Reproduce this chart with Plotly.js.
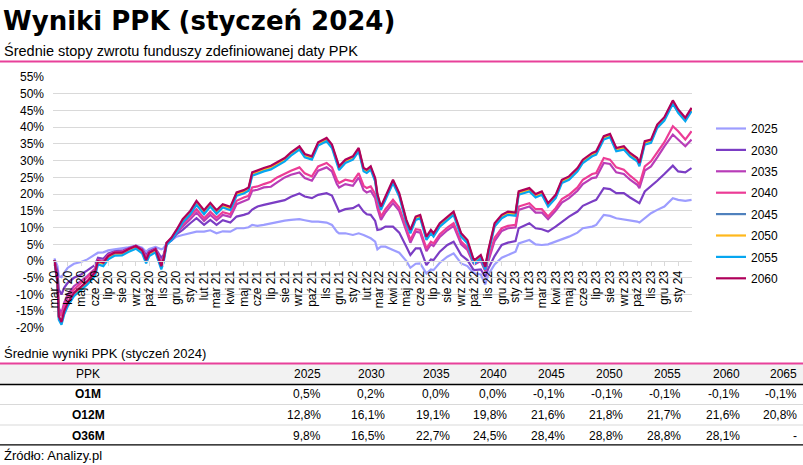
<!DOCTYPE html>
<html><head><meta charset="utf-8">
<script src="https://cdn.plot.ly/plotly-3.0.1.min.js"></script>
<style>html,body{margin:0;padding:0;background:#fff;}#chart{width:803px;height:465px;}</style>
</head><body><div id="chart"></div>
<script>
const dates = ['2020-03-02','2020-03-09','2020-03-12','2020-03-18','2020-03-24','2020-04-01','2020-04-15','2020-05-01','2020-05-15','2020-06-01',
'2020-06-08','2020-06-20','2020-07-01','2020-07-15','2020-08-01','2020-08-15','2020-09-01','2020-09-15','2020-09-24','2020-10-01',
'2020-10-15','2020-10-28','2020-11-02','2020-11-09','2020-11-20','2020-12-01','2020-12-15','2021-01-01','2021-01-15','2021-02-01',
'2021-02-15','2021-03-01','2021-03-15','2021-04-01','2021-04-15','2021-05-01','2021-05-12','2021-05-20','2021-06-01','2021-06-15',
'2021-07-01','2021-07-15','2021-08-01','2021-08-15','2021-09-03','2021-09-15','2021-10-01','2021-10-15','2021-11-03','2021-11-15',
'2021-11-26','2021-12-01','2021-12-15','2022-01-01','2022-01-14','2022-01-25','2022-02-01','2022-02-10','2022-02-20','2022-02-25',
'2022-03-05','2022-03-15','2022-04-01','2022-04-15','2022-05-01','2022-05-10','2022-05-22','2022-06-01','2022-06-15','2022-06-25',
'2022-07-01','2022-07-15','2022-08-01','2022-08-15','2022-09-01','2022-09-15','2022-09-28','2022-10-01','2022-10-15','2022-10-25',
'2022-11-01','2022-11-15','2022-12-01','2022-12-15','2023-01-01','2023-01-08','2023-02-01','2023-02-15','2023-03-01','2023-03-15',
'2023-04-01','2023-04-15','2023-05-01','2023-05-20','2023-06-01','2023-06-22','2023-07-01','2023-07-18','2023-08-01','2023-08-15',
'2023-09-01','2023-09-15','2023-10-01','2023-10-06','2023-10-18','2023-11-01','2023-11-15','2023-12-01','2023-12-20','2024-01-01',
'2024-01-17','2024-01-31'];

const s2025 = [0.8,-1.5,-4.5,-4.8,-3.5,-2,-0.8,-0.3,0.5,1.8,
2.5,2.6,3.2,3.5,3.8,4.1,4.6,4,2.8,3.6,
4.2,3.5,3.8,5.3,6.2,7.3,7.8,8.3,8.8,8.8,
9.2,8.3,8.9,8.8,9.8,9.8,10.1,10.8,10.5,10.8,
11.3,11.8,12.1,12.3,12.5,12.2,11.8,11.8,11.5,10.8,
8.8,8.3,8.3,7.8,8.3,7.8,7.3,6.8,5.8,3.5,
4.3,4.3,3.3,2.5,0,-2,-0.8,-0.7,-3.7,-2.5,
-2.7,-0.5,1.3,2.3,-0.7,-1.5,-3.5,-3.7,-4,-7,
-4,-1,1,1.8,2.8,5.3,6.3,5,4.8,5,
5.8,6.5,7.3,8.5,9.8,10.3,10.8,13.8,13.5,12.8,
12.5,12.2,11.8,11.5,12.8,14.3,15.3,16.3,18.8,18.3,18,18.3];

const s2030 = [0.3,-3,-8.5,-10,-8,-6.5,-5,-4,-2.8,-1.2,
1,0.7,2.3,2.9,3.1,3.8,4.6,3.6,1.8,3,
3.8,1,1.8,5.3,6.2,8,9.3,11.3,12.8,10.8,
12.3,10.8,12.2,11.5,13.3,13.8,14.3,15.4,16.3,16.8,
17.2,17.7,18.2,19.2,20.2,19.3,18.8,19.8,20.3,19.6,
16,14.8,15.5,15.8,16.8,14.8,14,13.8,12,9.3,
9.5,10.3,10.3,8.5,4.3,1.8,3.8,3.8,-1.2,0.5,
0.3,2.8,4.8,5.8,1.8,0.3,-2.5,-2.7,-2.5,-4.7,
-2.2,1.5,4.8,5.5,6,9.8,11.3,9.8,9.5,8.8,
10.3,11.8,13.3,14.8,16.5,17.8,18.3,21.8,21.5,20.3,
20.3,19,17.8,17.3,20.8,22.3,24,26,28.5,26.8,26.5,27.8];

const s2035 = [0.3,-5,-14,-15.5,-12.5,-10,-7.5,-6,-4.5,-2.3,
0.4,0,1.9,2.7,2.8,3.7,4.5,3.4,1.1,2.7,
3.6,-0.4,1,5.4,6.6,8.5,10.2,12.5,14.5,12,
13.8,12.2,13.8,13.2,17,18,18.5,21,21.3,22,
22.2,23.5,25,25.8,26.5,24.8,24,27,28,26.8,
23,22,23,22.5,25,21.2,20.5,21,18.8,15.8,
12.3,14.5,17.3,15,9,5.5,8.8,8.5,3,5,
4.5,7.2,9.2,10.5,5,3.3,-0.6,-1,0,-3,
0,6,9,9.8,10,15.3,16.3,14.5,14.5,12.5,
15,17.5,18.8,21,23,24.8,25,29.3,29,26.5,
26,24.3,22.8,21.8,27,28.3,31,34.3,37.8,36.3,34.3,36.3];

const s2040 = [0.3,-5.5,-15,-16.5,-13.5,-11,-8.5,-6.5,-5,-2.8,
0.2,-0.2,1.7,2.6,2.7,3.6,4.5,3.3,0.8,2.6,
3.5,-0.8,0.8,5.4,6.7,8.8,10.8,13.3,15.5,12.8,
14.7,13,14.6,14,18,19,19.5,22,22.3,23,
23.7,25,26.2,27,28,26.2,25.3,28.3,29.3,28,
24.3,23.3,24.3,23.8,26.3,22.5,21.8,22.3,20,17,
13.3,15.5,18.3,16,9.8,6.3,9.5,9.3,3.8,5.8,
5.3,8,10,11.3,5.8,4,-0.3,-0.7,0.5,-2.7,
0.8,7,9.8,10.5,10.8,16.3,17.3,15.5,15.5,13.3,
15.8,18.5,19.8,22,24.3,26,26.3,30.8,30.3,28,
27.3,25.5,23.8,22.8,28.3,29.8,32.5,35.5,40.3,38.8,36.3,38.8];

const s2045 = [0.3,-6.1,-16.7,-18.4,-15.2,-12.7,-9.7,-7.7,-6.2,-3.7,
-0.2,-0.7,1.3,2.3,2.3,3.3,4.3,3,0.1,2.3,
3.3,-1.7,0.3,5.3,6.8,9,12.1,14.6,17.6,14.8,
17,14.8,16.6,15.8,20.1,20.8,21.6,26.1,26.8,27.4,
28.1,29.1,30.4,32.1,33.9,31.6,30.9,35.1,36.4,34.4,
29.9,27.9,29.9,30.9,33.4,27.4,26.9,27.9,24.4,19.6,
15.9,18.9,23.9,19.9,11.9,8.9,12.9,13.4,6.9,8.9,
7.9,10.9,12.9,14.4,7.9,5.9,0.4,-0.1,1.4,-1.9,
2.9,10.9,13.4,14.4,14.1,20.4,21.4,19.6,20.4,16.9,
19.4,23.9,24.9,27.4,29.9,31.9,32.4,36.9,37.6,33.4,
33.9,31.9,30.4,28.9,35.4,35.9,40.4,42.6,47.6,44.9,42.4,45.4];

const s2050 = [0.3,-6.2,-16.8,-18.5,-15.3,-12.8,-9.8,-7.8,-6.3,-3.8,
-0.3,-0.8,1.2,2.2,2.2,3.2,4.2,2.9,0,2.2,
3.2,-1.8,0.2,5.2,6.7,8.9,12,14.5,17.5,14.7,
16.9,14.7,16.5,15.7,20,20.7,21.5,26,26.7,27.3,
28,29,30.3,32,33.8,31.5,30.8,35,36.3,34.3,
29.8,27.8,29.8,30.8,33.3,27.3,26.8,27.8,24.3,19.5,
15.8,18.8,23.8,19.8,11.8,8.8,12.8,13.3,6.8,8.8,
7.8,10.8,12.8,14.3,7.8,5.8,0.3,-0.2,1.3,-2,
2.8,10.8,13.3,14.3,14,20.3,21.3,19.5,20.3,16.8,
19.3,23.8,24.8,27.3,29.8,31.8,32.3,36.8,37.5,33.3,
33.8,31.8,30.3,28.8,35.3,35.8,40.3,42.5,47.5,44.8,42.3,45.3];

const s2055 = [0.2,-6.5,-17.5,-19,-16,-13.5,-10.5,-8.5,-7,-4.5,
-1,-1.5,0.5,1.6,1.7,2.7,3.7,2.3,-0.7,1.5,
2.6,-2.5,-0.5,4.8,6.3,8.5,11.5,14,16.8,14,
16.3,14.1,16,15.2,19.5,20.2,21,25.5,26.2,26.8,
27.4,28.4,29.8,31.5,33.3,31,30.3,34.5,35.8,33.8,
29.2,27.2,29.3,30.3,32.8,26.8,26.3,27.3,23.8,19,
15.3,18.3,23.3,19.3,11.3,8.3,12.3,12.8,6.3,8.3,
7.3,10.3,12.3,13.8,7.3,5.3,-0.2,-0.7,0.8,-2.5,
2.3,10.3,12.8,13.8,13.5,19.8,20.8,19,19.8,16.3,
18.8,23.3,24.3,26.8,29.3,31.3,31.8,36.3,37,32.8,
33.3,31.3,29.8,28.3,34.8,35.3,39.8,42,47,44.3,41.8,44.8];

const s2060 = [0.3,-6,-16.5,-18.2,-15,-12.5,-9.5,-7.5,-6,-3.5,
0,-0.5,1.5,2.5,2.5,3.5,4.5,3.2,0.3,2.5,
3.5,-1.5,0.5,5.5,7,9.3,12.5,15,18,15.2,
17.4,15.2,17,16.2,20.5,21.2,22,26.5,27.2,27.8,
28.5,29.5,30.8,32.5,34.3,32,31.3,35.5,36.8,34.8,
30.3,28.3,30.3,31.3,33.8,27.8,27.3,28.3,24.8,20,
16.3,19.3,24.3,20.3,12.3,9.3,13.3,13.8,7.3,9.3,
8.3,11.3,13.3,14.8,8.3,6.3,0.8,0.3,1.8,-1.7,
3.3,11.3,13.8,14.8,14.5,20.8,21.8,20,20.8,17.3,
19.8,24.3,25.3,27.8,30.3,32.3,32.8,37.3,38,33.8,
34.3,32.3,30.8,29.3,35.8,36.3,40.8,43,48,45.3,42.8,45.8];

const seriesNames = ['2025','2030','2035','2040','2045','2050','2055','2060'];
const seriesValues = [s2025,s2030,s2035,s2040,s2045,s2050,s2055,s2060];
const seriesColors = ['#9D9DFF','#7B3DC4','#B83DB8','#EC3C96','#4F81BD','#FFB81C','#06A6F0','#B0005B'];

const tickDates = ['2020-03-01','2020-04-01','2020-05-01','2020-06-01','2020-07-01','2020-08-01','2020-09-01','2020-10-01','2020-11-01','2020-12-01',
'2021-01-01','2021-02-01','2021-03-01','2021-04-01','2021-05-01','2021-06-01','2021-07-01','2021-08-01','2021-09-01','2021-10-01','2021-11-01','2021-12-01',
'2022-01-01','2022-02-01','2022-03-01','2022-04-01','2022-05-01','2022-06-01','2022-07-01','2022-08-01','2022-09-01','2022-10-01','2022-11-01','2022-12-01',
'2023-01-01','2023-02-01','2023-03-01','2023-04-01','2023-05-01','2023-06-01','2023-07-01','2023-08-01','2023-09-01','2023-10-01','2023-11-01','2023-12-01',
'2024-01-01'];
const tickLabels = ['mar 20','kwi 20','maj 20','cze 20','lip 20','sie 20','wrz 20','paź 20','lis 20','gru 20',
'sty 21','lut 21','mar 21','kwi 21','maj 21','cze 21','lip 21','sie 21','wrz 21','paź 21','lis 21','gru 21',
'sty 22','lut 22','mar 22','kwi 22','maj 22','cze 22','lip 22','sie 22','wrz 22','paź 22','lis 22','gru 22',
'sty 23','lut 23','mar 23','kwi 23','maj 23','cze 23','lip 23','sie 23','wrz 23','paź 23','lis 23','gru 23',
'sty 24'];
const yTickVals = [-20,-15,-10,-5,0,5,10,15,20,25,30,35,40,45,50,55];
const yTickLabels = ['-20%','-15%','-10%','-5%','0%','5%','10%','15%','20%','25%','30%','35%','40%','45%','50%','55%'];

const tableCols = ['2025','2030','2035','2040','2045','2050','2055','2060','2065'];
const tableRows = ['O1M','O12M','O36M'];
const rowO1M = ['0,5%','0,2%','0,0%','0,0%','-0,1%','-0,1%','-0,1%','-0,1%','-0,1%'];
const rowO12M = ['12,8%','16,1%','19,1%','19,8%','21,6%','21,8%','21,7%','21,6%','20,8%'];
const rowO36M = ['9,8%','16,5%','22,7%','24,5%','28,4%','28,8%','28,8%','28,1%','-'];
const tableValues = [rowO1M,rowO12M,rowO36M];

const W = 803, H = 465;
const FONT = 'Liberation Sans, Arial, sans-serif';
const X = px => px / W;
const Y = py => 1 - py / H;

const traces = seriesNames.map((n,i) => ({
  type:'scatter', mode:'lines', name:n, x:dates, y:seriesValues[i],
  line:{color:seriesColors[i], width:2.2}, legendgroup:n, hoverinfo:'skip'
}));

const colRight = [323,387,452,509,567,625,683,742,799];
const rowY = [394,415,436];
const annotations = [];
function ann(text,x,y,xanchor,size,bold){
  annotations.push({text: bold?'<b>'+text+'</b>':text, x:X(x), y:Y(y), xref:'paper', yref:'paper',
    xanchor:xanchor, yanchor:'middle', showarrow:false, font:{family:FONT,size:size,color:'#000'}});
}
ann('Średnie stopy zwrotu funduszy zdefiniowanej daty PPK',2,51,'left',14.5,false);
ann('Średnie wyniki PPK (styczeń 2024)',2,353,'left',13,false);
ann('Źródło: Analizy.pl',2,455,'left',13,false);
ann('PPK',88,374,'center',12,false);
tableCols.forEach((c,i)=>ann(c,colRight[i],374,'right',12,false));
tableRows.forEach((r,j)=>{
  ann(r,88,rowY[j],'center',12,true);
  tableValues[j].forEach((v,i)=>ann(v,colRight[i],rowY[j],'right',12,false));
});

function hline(y,color,width){
  return {type:'line',xref:'paper',yref:'paper',x0:0,x1:1,y0:Y(y),y1:Y(y),line:{color:color,width:width}};
}
const shapes = [
  hline(61.5,'#E8409A',2),
  {type:'rect',xref:'paper',yref:'paper',x0:0,x1:1,y0:Y(384),y1:Y(364),fillcolor:'#F2F2F2',line:{width:0},layer:'below'},
  hline(363.5,'#E8409A',2),
  hline(384.5,'#000',1.3),
  hline(404.5,'#D9D9D9',1),
  hline(425,'#D9D9D9',1),
  hline(444.8,'#000',1.3)
];

const layout = {
  width:W, height:H, margin:{l:0,r:0,t:0,b:0,pad:0},
  paper_bgcolor:'#fff', plot_bgcolor:'rgba(0,0,0,0)',
  font:{family:FONT,size:12,color:'#000'},
  title:{text:'<b>Wyniki PPK (styczeń 2024)</b>', font:{family:'DejaVu Sans, sans-serif',size:26,color:'#000'},
    x:3/W, xanchor:'left', xref:'container', y:1-21/H, yanchor:'middle', yref:'container'},
  xaxis:{type:'date', domain:[X(53),X(692)], range:['2020-02-28','2024-02-01'],
    anchor:'free', position:Y(261), showgrid:false, zeroline:false,
    showline:true, linecolor:'#D9D9D9', linewidth:1,
    ticks:'outside', ticklen:4, tickcolor:'#D9D9D9', tickwidth:1,
    tickmode:'array', tickvals:tickDates, ticktext:tickLabels, tickangle:-90,
    tickfont:{family:FONT,size:12,color:'#000'}, automargin:false, fixedrange:true},
  yaxis:{domain:[Y(328),Y(77)], range:[-20,55], tickmode:'array', tickvals:yTickVals, ticktext:yTickLabels,
    showgrid:true, gridcolor:'#D9D9D9', gridwidth:1, zeroline:false, showline:false, ticks:'',
    ticklabelstandoff:8,
    tickfont:{family:FONT,size:12,color:'#000'}, automargin:false, fixedrange:true},
  showlegend:true,
  legend:{x:X(711), xanchor:'left', y:Y(114), yanchor:'top', bgcolor:'rgba(0,0,0,0)',
    font:{family:FONT,size:12,color:'#000'}, tracegroupgap:2.4, itemwidth:30, traceorder:'grouped'},
  shapes:shapes, annotations:annotations
};

Plotly.newPlot('chart', traces, layout, {displayModeBar:false, staticPlot:true});
</script>
</body></html>
